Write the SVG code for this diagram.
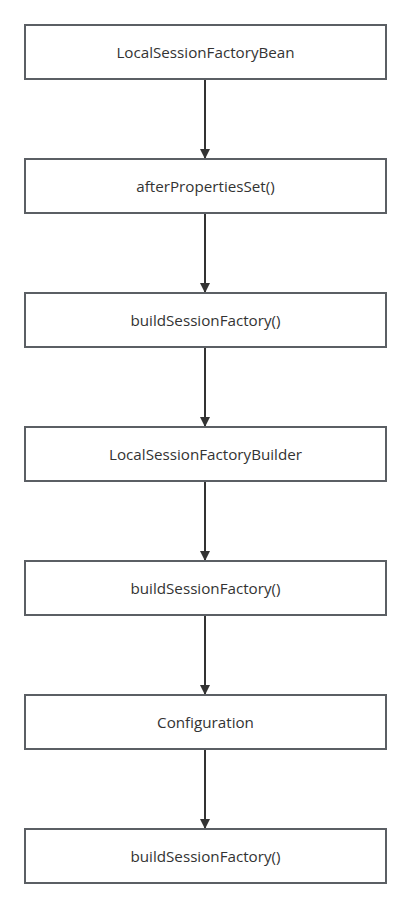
<svg xmlns="http://www.w3.org/2000/svg" width="411" height="908" viewBox="0 0 411 908">
<style>
.box{fill:#ffffff;stroke:#5b5f64;stroke-width:2}
.lbl{font-family:"Open Sans","Noto Sans","Liberation Sans",sans-serif;font-size:15.2px;fill:#333333;text-anchor:middle;dominant-baseline:central}
.edge{stroke:#333333;stroke-width:2;fill:none}
</style>
<defs>
<marker id="arr" markerWidth="10" markerHeight="10" refX="9" refY="5" orient="auto" markerUnits="userSpaceOnUse">
<path d="M0,0 L10,5 L0,10 Z" fill="#333333"/>
</marker>
</defs>
<rect width="411" height="908" fill="#ffffff"/>
<g id="connectors">
<line class="edge" x1="205" y1="80" x2="205" y2="158" marker-end="url(#arr)"/>
<line class="edge" x1="205" y1="214" x2="205" y2="292" marker-end="url(#arr)"/>
<line class="edge" x1="205" y1="348" x2="205" y2="426" marker-end="url(#arr)"/>
<line class="edge" x1="205" y1="482" x2="205" y2="560" marker-end="url(#arr)"/>
<line class="edge" x1="205" y1="616" x2="205" y2="694" marker-end="url(#arr)"/>
<line class="edge" x1="205" y1="750" x2="205" y2="828" marker-end="url(#arr)"/>
</g>
<g id="n1"><rect class="box" x="25" y="25" width="361" height="54"/><text class="lbl" x="205.5" y="52">LocalSessionFactoryBean</text></g>
<g id="n2"><rect class="box" x="25" y="159" width="361" height="54"/><text class="lbl" x="205.5" y="186">afterPropertiesSet()</text></g>
<g id="n3"><rect class="box" x="25" y="293" width="361" height="54"/><text class="lbl" x="205.5" y="320">buildSessionFactory()</text></g>
<g id="n4"><rect class="box" x="25" y="427" width="361" height="54"/><text class="lbl" x="205.5" y="454">LocalSessionFactoryBuilder</text></g>
<g id="n5"><rect class="box" x="25" y="561" width="361" height="54"/><text class="lbl" x="205.5" y="588">buildSessionFactory()</text></g>
<g id="n6"><rect class="box" x="25" y="695" width="361" height="54"/><text class="lbl" x="205.5" y="722">Configuration</text></g>
<g id="n7"><rect class="box" x="25" y="829" width="361" height="54"/><text class="lbl" x="205.5" y="856">buildSessionFactory()</text></g>
</svg>
